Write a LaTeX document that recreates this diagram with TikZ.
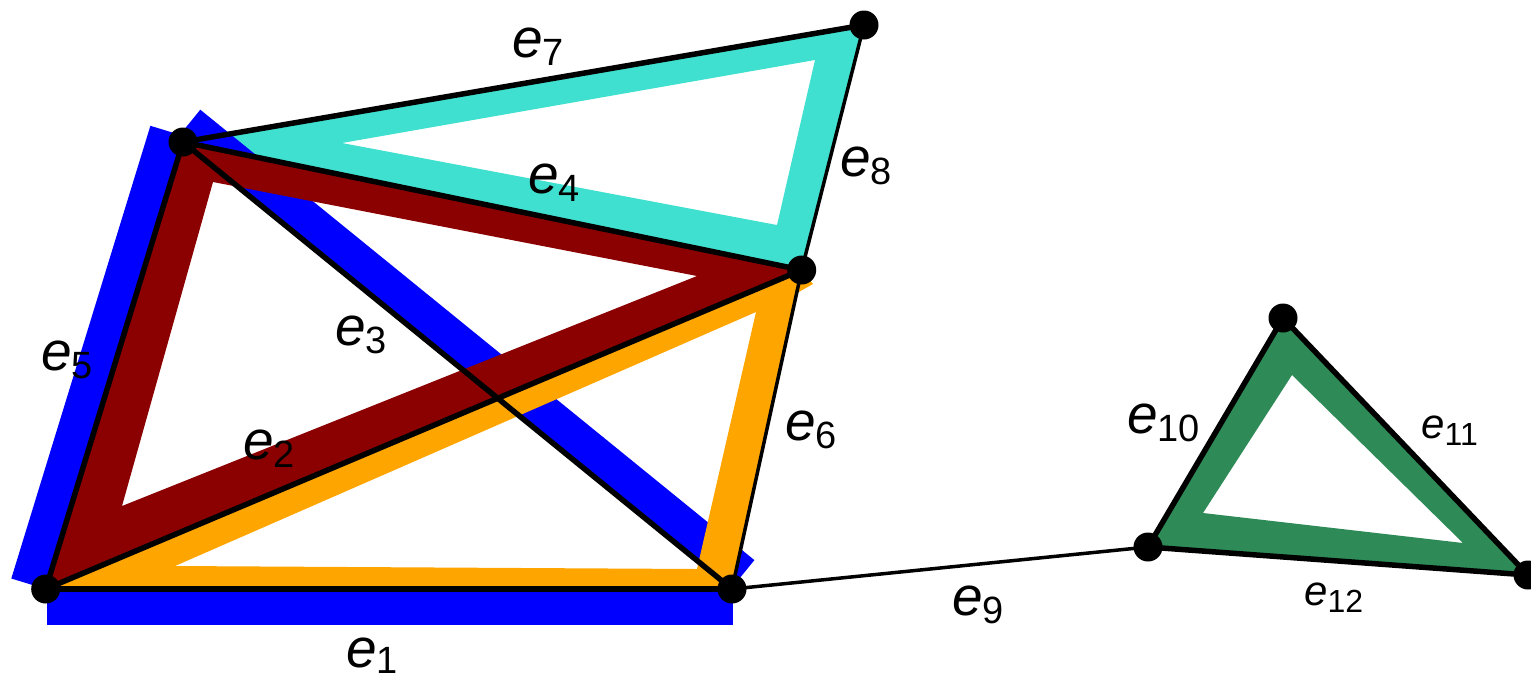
\documentclass[tikz,border=0pt]{standalone}
\usepackage{fontspec}
\setmainfont{Liberation Sans}
\definecolor{dred}{RGB}{139,0,0}
\definecolor{orng}{RGB}{255,165,0}
\definecolor{turq}{RGB}{64,224,208}
\definecolor{sgreen}{RGB}{46,139,87}
\newcommand{\elab}[1]{\textit{e}\raisebox{-8pt}{\fontsize{38}{38}\selectfont #1}}
\newcommand{\eslab}[1]{\textit{e}\raisebox{-7pt}{\fontsize{32}{32}\selectfont #1}}
\begin{document}
\begin{tikzpicture}[x=1pt,y=-1pt,
  thickedge/.style={line width=5.5pt},
  thinedge/.style={line width=3.5pt},
  dot/.style={circle, fill=black, inner sep=0pt, minimum size=29pt},
  lab/.style={anchor=base west, inner sep=0pt, font=\fontsize{55}{55}\selectfont},
  slab/.style={anchor=base west, inner sep=0pt, font=\fontsize{42}{42}\selectfont}]
\useasboundingbox (0,0) rectangle (1531,678);
\coordinate (A) at (45.7,589);
\coordinate (B) at (183,142);
\coordinate (C) at (801.7,270);
\coordinate (D) at (732,589);
\coordinate (E) at (864,25);
\coordinate (F) at (1148,547);
\coordinate (G) at (1283,318);
\coordinate (H) at (1528,575);
% bands
\fill[turq, even odd rule] (B) -- (E) -- (C) -- cycle (342,143) -- (815,60) -- (777,225) -- cycle;
\fill[blue] (45.7,589) -- (11.3,578.5) -- (150.4,125.8) -- (184.8,136.3) -- cycle;
\fill[blue] (47,589) rectangle (733,625);
\fill[blue] (177.6,137.6) -- (200.3,109.7) -- (754.4,560.1) -- (731.7,588) -- cycle;
\fill[dred, even odd rule] (A) -- (B) -- (C) -- cycle (122,506) -- (213,182) -- (697,276) -- cycle;
\fill[orng, even odd rule] (A) -- (C) -- (D) -- cycle (175,566) -- (756,312) -- (697,569) -- cycle;
\fill[orng] (C) -- (813,284) -- (797,293) -- cycle;
\fill[sgreen, even odd rule] (F) -- (G) -- (H) -- cycle (1203,513) -- (1292,375) -- (1463,543) -- cycle;
% edges
\draw[thickedge] (A) -- (D);
\draw[thickedge] (A) -- (C);
\draw[thickedge] (B) -- (D);
\draw[thickedge] (B) -- (C);
\draw[thickedge] (A) -- (B);
\draw[thinedge] (C) -- (D);
\draw[thickedge] (B) -- (E);
\draw[thinedge] (E) -- (C);
\draw[thinedge] (D) -- (F);
\draw[thickedge] (F) -- (G);
\draw[thickedge] (G) -- (H);
\draw[thickedge] (F) -- (H);
% vertices
\foreach \v in {A,B,C,D,E,F,G,H} \node[dot] (n\v) at (\v) {};
% labels
\node[lab] (l1) at (346,667) {\textit{e}\raisebox{-6pt}{\fontsize{38}{38}\selectfont 1}};
\node[lab] (l2) at (243,459) {\elab{2}};
\node[lab] (l3) at (335,345) {\elab{3}};
\node[lab] (l4) at (528,193) {\elab{4}};
\node[lab] (l5) at (41,370) {\elab{5}};
\node[lab] (l6) at (785,440) {\elab{6}};
\node[lab] (l7) at (512,57) {\elab{7}};
\node[lab] (l8) at (840,176) {\elab{8}};
\node[lab] (l9) at (952,615) {\elab{9}};
\node[lab] (l10) at (1127,433) {\elab{10}};
\node[slab] (l11) at (1421,438) {\eslab{11}};
\node[slab] (l12) at (1304,605) {\eslab{12}};
\end{tikzpicture}
\end{document}
